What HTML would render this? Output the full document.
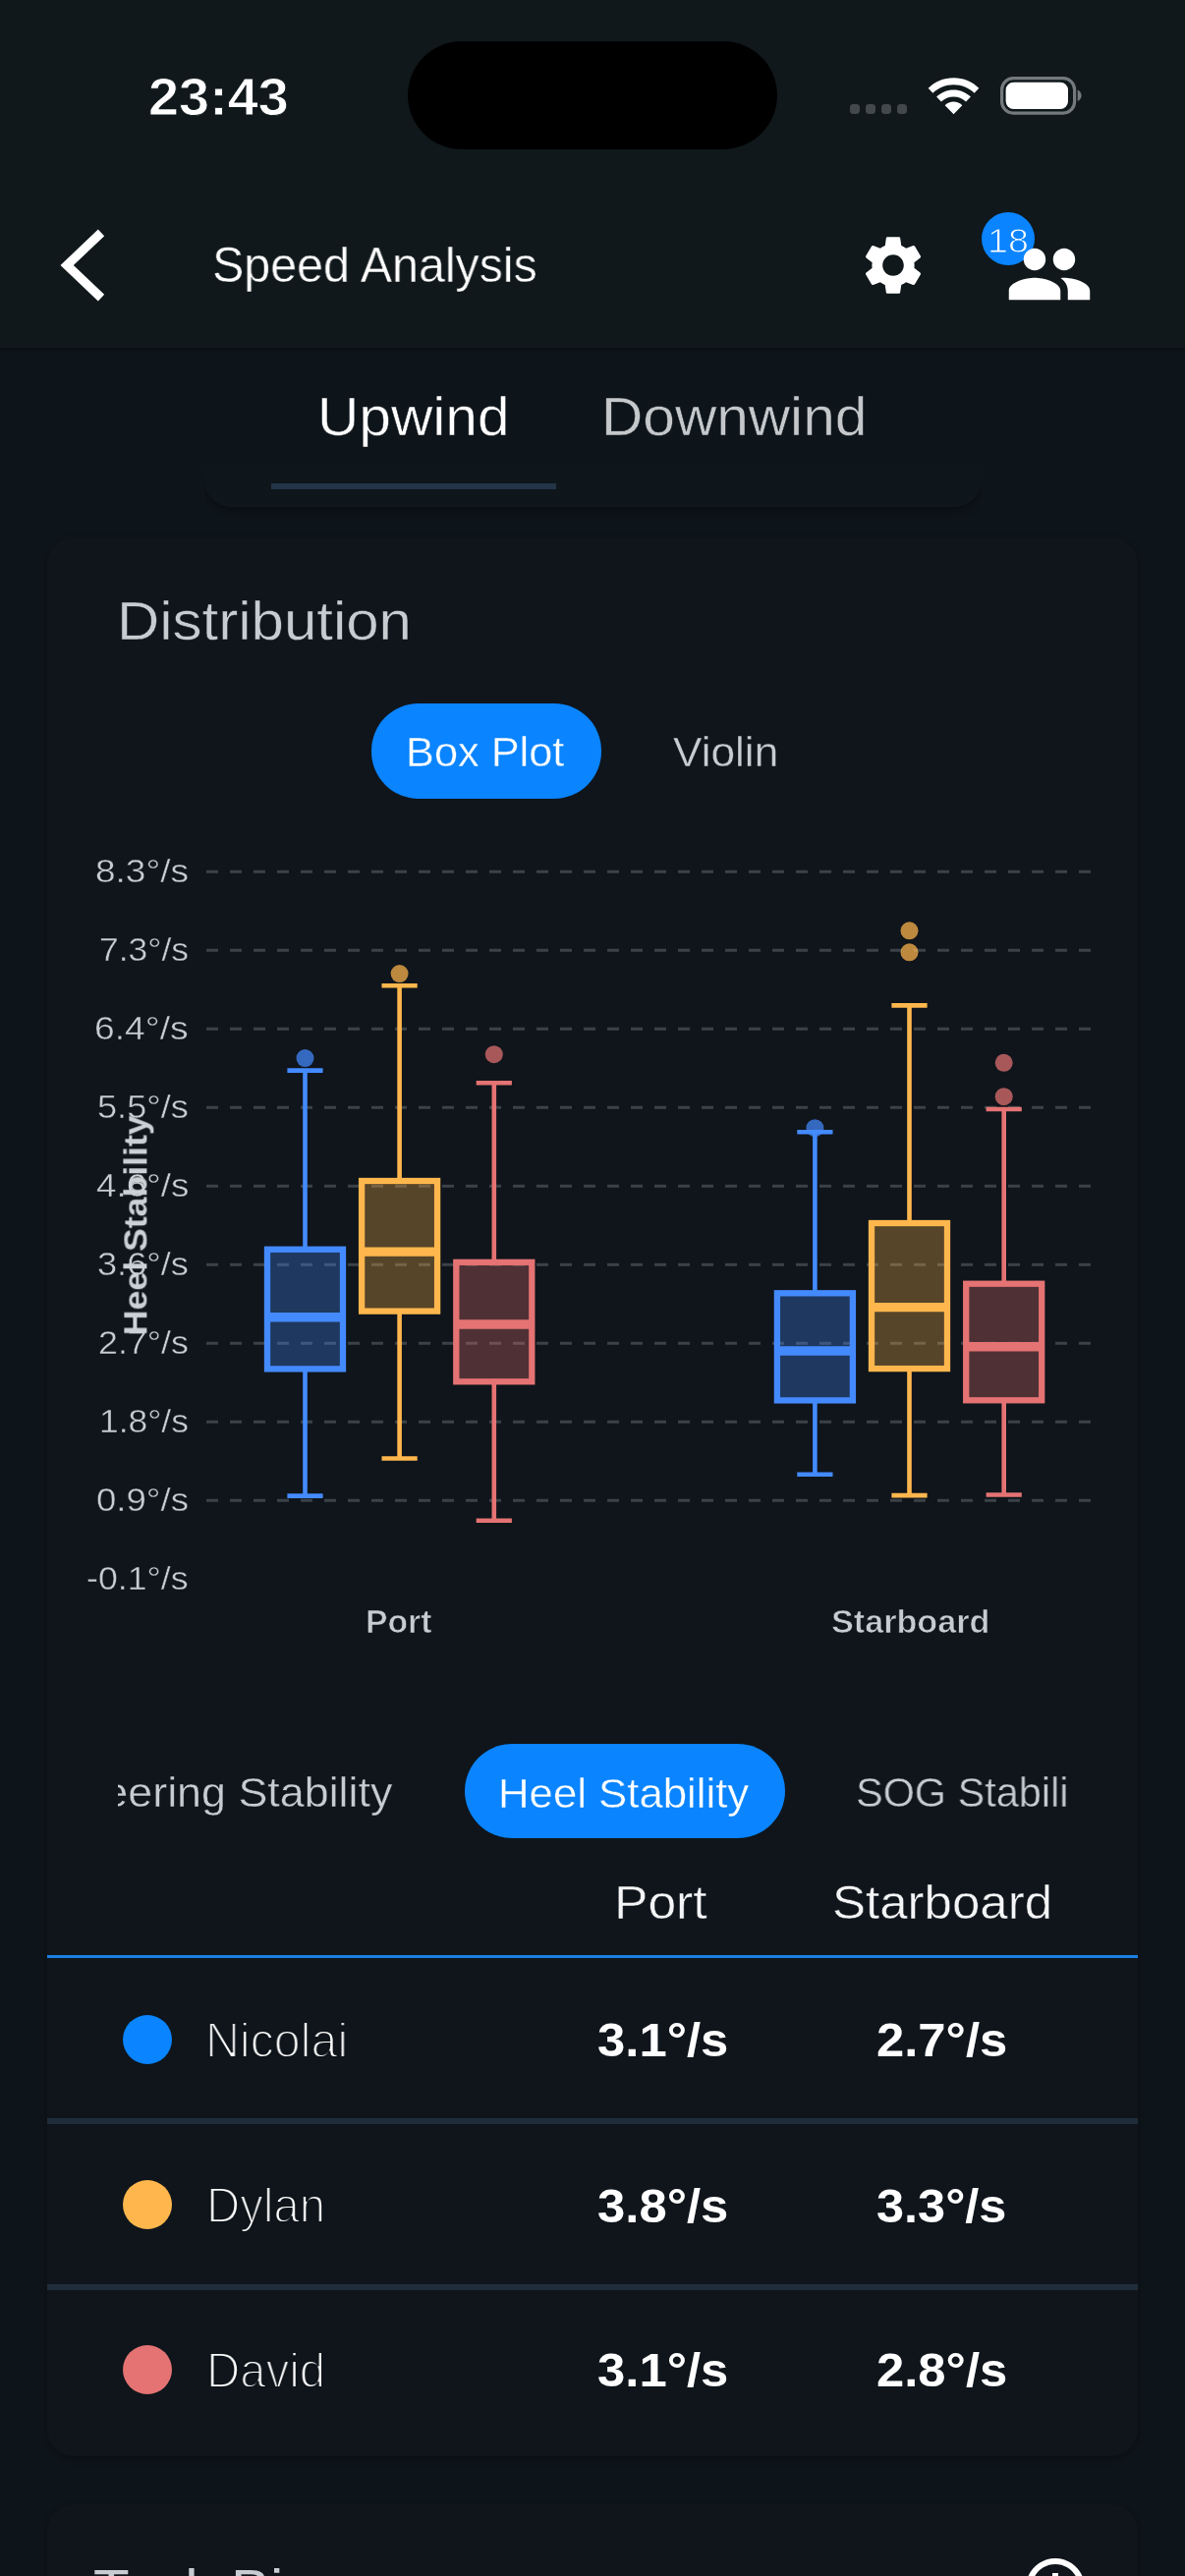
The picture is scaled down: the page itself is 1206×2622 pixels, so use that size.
<!DOCTYPE html>
<html lang="en">
<head>
<meta charset="utf-8">
<title>Speed Analysis</title>
<style>
*{box-sizing:border-box;margin:0;padding:0}
html,body{width:1206px;height:2622px;overflow:hidden;background:#0d141a}
body{position:relative;font-family:"Liberation Sans",sans-serif;color:#fff}
.t{position:absolute;white-space:nowrap;line-height:1;transform-origin:0 50%;font-style:normal;will-change:transform}
#appbar{position:absolute;left:0;top:0;width:1206px;height:353.5px;background:#10181b;box-shadow:0 1px 3px rgba(0,0,0,.4)}
#island{position:absolute;left:415px;top:42px;width:376px;height:110px;border-radius:55px;background:#000}
#signal i{position:absolute;top:105.8px;width:10px;height:10px;border-radius:3.4px;background:#42484c}
#badge{position:absolute;left:999.2px;top:216.2px;width:54.2px;height:54.2px;border-radius:50%;background:#0a84ff}
#tabs{position:absolute;left:208px;top:330px;width:791px;height:186px;border-radius:0 0 28px 28px;background:linear-gradient(#0d141a 75%,#0f171c);box-shadow:0 5px 8px -2px rgba(0,0,0,.4);clip-path:inset(0 0 -30px 0)}
#tabline{position:absolute;left:276px;top:492.2px;width:290px;height:5.800px;background:#233547}
.card{position:absolute;left:48px;width:1110px;border-radius:27px;background:#0f151b;box-shadow:0 3px 6px rgba(0,0,0,.28)}
#card1{top:547px;height:1952.5px}
#card2{top:2548.5px;height:300px}
.pill{position:absolute;border-radius:48px;background:#0a84ff}
.chart{position:absolute;left:0;top:840px}
#scroller{position:absolute;left:120px;top:1740px;width:966px;height:160px;overflow:hidden}
#thead-line{position:absolute;left:48px;top:1990px;width:1110px;height:3.200px;background:#1b7fe2}
.sep{position:absolute;left:48px;width:1110px;height:6.200px;background:#1f2d3b}
.dot{position:absolute;left:125.2px;width:50px;height:50px;border-radius:50%}
</style>
</head>
<body>
<div id="tabs"></div>
<div id="appbar">
  <div id="island"></div>
  <span class="t" style="left:150.60px;top:70.58px;font-size:54.07px;color:#fff;transform:scaleX(1.0336);font-weight:700;-webkit-text-stroke:0.9px #10181b;">23:43</span>
  <div id="signal"><i style="left:865.0px"></i><i style="left:881.1px"></i><i style="left:897.2px"></i><i style="left:913.3px"></i></div>
  <svg style="position:absolute;left:944px;top:78px" width="53" height="40" viewBox="0 0 53 40"><path fill="#fff" d="M26.5 1.2C16.400 1.200 7.300 5.200 0.700 11.700L5.400 16.700C10.900 11.400 18.300 8.200 26.500 8.200C34.700 8.200 42.100 11.400 47.600 16.700L52.300 11.700C45.700 5.200 36.600 1.200 26.500 1.200ZM26.5 13.4C19.700 13.400 13.600 16.100 9.100 20.500L13.900 25.500C17.200 22.300 21.600 20.400 26.500 20.400C31.400 20.400 35.800 22.300 39.100 25.500L43.900 20.500C39.400 16.100 33.300 13.400 26.500 13.400ZM26.5 25.6C23.100 25.600 20 27 17.700 29.200L26.500 38.300L35.300 29.200C33 27 29.900 25.600 26.500 25.600Z"/></svg>
  <svg style="position:absolute;left:1014px;top:74px" width="92" height="48" viewBox="1014 74 92 48"><rect x="1019.6" y="79.7" width="74" height="35.400" rx="11.500" fill="none" stroke="#74797d" stroke-width="3.2"/><rect x="1023.6" y="83.7" width="63.400" height="27.400" rx="8" fill="#fff"/><path d="M1096.7 91.5c2.400 1 3.900 3.200 3.900 5.800s-1.500 4.800-3.900 5.800z" fill="#74797d"/></svg>
  <svg style="position:absolute;left:50px;top:225px" width="70" height="90" viewBox="50 225 70 90"><path d="M103 236.8L68.2 270L103 303.200" fill="none" stroke="#fff" stroke-width="9.2" stroke-linejoin="miter" stroke-miterlimit="10"/></svg>
  <span class="t" style="left:215.74px;top:245.47px;font-size:50.3px;color:#fff;transform:scaleX(0.9619);-webkit-text-stroke:0.5px #10181b;">Speed Analysis</span>
  <svg style="position:absolute;left:873px;top:234px" width="72" height="72" viewBox="0 0 24 24"><path fill="#fff" d="M19.14 12.94c.04-.3.06-.61.06-.94 0-.32-.02-.64-.07-.94l2.03-1.58c.18-.14.23-.41.12-.61l-1.92-3.32c-.12-.22-.37-.29-.59-.22l-2.39.96c-.5-.38-1.03-.7-1.62-.94l-.36-2.54c-.04-.24-.24-.41-.48-.41h-3.84c-.24 0-.43.17-.47.41l-.36 2.54c-.59.24-1.13.57-1.62.94l-2.39-.96c-.22-.08-.47 0-.59.22L2.74 8.87c-.12.21-.08.47.12.61l2.03 1.58c-.05.3-.09.63-.09.94s.02.64.07.94l-2.03 1.58c-.18.14-.23.41-.12.61l1.92 3.32c.12.22.37.29.59.22l2.39-.96c.5.38 1.03.7 1.62.94l.36 2.54c.05.24.24.41.48.41h3.84c.24 0 .44-.17.47-.41l.36-2.54c.59-.24 1.13-.56 1.62-.94l2.39.96c.22.08.47 0 .59-.22l1.92-3.32c.12-.22.07-.47-.12-.61l-2.01-1.58zM12 15.6c-1.98 0-3.6-1.62-3.6-3.6s1.62-3.6 3.6-3.6 3.6 1.62 3.6 3.6-1.62 3.6-3.6 3.6z"/></svg>
  <div id="badge"></div><span class="t" style="left:1005.45px;top:227.40px;font-size:35.91px;color:#fff;transform:scaleX(1.0485);-webkit-text-stroke:1.0px #0a84ff;">18</span>
  <svg style="position:absolute;left:1022.7px;top:234px" width="90" height="90" viewBox="0 0 24 24"><path fill="#fff" d="M16 11c1.66 0 2.99-1.34 2.99-3S17.66 5 16 5c-1.66 0-3 1.34-3 3s1.34 3 3 3zm-8 0c1.66 0 2.99-1.34 2.99-3S9.660 5 8 5C6.340 5 5 6.340 5 8s1.340 3 3 3zm0 2c-2.330 0-7 1.170-7 3.500V19h14v-2.500c0-2.330-4.670-3.500-7-3.500zm8 0c-.29 0-.62.020-.97.050 1.160.84 1.970 1.970 1.970 3.450V19h6v-2.500c0-2.330-4.670-3.500-7-3.500z"/></svg>
</div>
<nav>
  <span class="t" style="left:322.89px;top:397.15px;font-size:54.7px;color:#fff;transform:scaleX(1.0720);-webkit-text-stroke:0.5px #0d141a;">Upwind</span>
  <span class="t" style="left:612.17px;top:397.15px;font-size:54.7px;color:#c4c8cb;transform:scaleX(1.0714);-webkit-text-stroke:0.5px #0d141a;">Downwind</span>
  <div id="tabline"></div>
</nav>
<section class="card" id="card1"></section>
<section class="card" id="card2"></section>
<main>
  <span class="t" style="left:118.67px;top:604.95px;font-size:54.7px;color:#c8ccd0;transform:scaleX(1.0963);-webkit-text-stroke:0.5px #0f151b;">Distribution</span>
  <div class="pill" style="left:378.2px;top:716.3px;width:234.200px;height:96.300px"></div>
  <span class="t" style="left:413.42px;top:745.00px;font-size:42.06px;color:#fff;transform:scaleX(1.0300);-webkit-text-stroke:0.4px #0a84ff;">Box Plot</span>
  <span class="t" style="left:685.10px;top:745.00px;font-size:42.06px;color:#c8ccd0;transform:scaleX(1.0506);-webkit-text-stroke:0.4px #0f151b;">Violin</span>
  <svg class="chart" width="1206" height="900" viewBox="0 840 1206 900"><g stroke="#3b4148" stroke-width="3" stroke-dasharray="12 12"><line x1="210" y1="887.3" x2="1110" y2="887.3"/><line x1="210" y1="967.3" x2="1110" y2="967.3"/><line x1="210" y1="1047.3" x2="1110" y2="1047.3"/><line x1="210" y1="1127.3" x2="1110" y2="1127.3"/><line x1="210" y1="1207.3" x2="1110" y2="1207.3"/><line x1="210" y1="1287.3" x2="1110" y2="1287.3"/><line x1="210" y1="1367.3" x2="1110" y2="1367.3"/><line x1="210" y1="1447.3" x2="1110" y2="1447.3"/><line x1="210" y1="1527.3" x2="1110" y2="1527.3"/></g><g stroke="#448aff" fill="none" stroke-width="4.6"><path d="M310.5 1089.6V1271.7M310.5 1393.4V1522.6M292.4 1089.6H328.6M292.4 1522.6H328.6"/><rect x="272.00" y="1271.7" width="77.0" height="121.7" fill="#448aff" fill-opacity="0.3" stroke-width="6.3"/><path d="M272.00 1340.8H349.00" stroke-width="9.4"/><circle cx="310.5" cy="1077.1" r="9" fill="#448aff" fill-opacity="0.72" stroke="none"/></g><g stroke="#ffb74d" fill="none" stroke-width="4.6"><path d="M406.6 1003.2V1202.0M406.6 1334.6V1484.5M388.5 1003.2H424.70000000000005M388.5 1484.5H424.70000000000005"/><rect x="368.10" y="1202.0" width="77.0" height="132.6" fill="#ffb74d" fill-opacity="0.3" stroke-width="6.3"/><path d="M368.10 1274.1H445.10" stroke-width="9.4"/><circle cx="406.6" cy="991.1" r="9" fill="#ffb74d" fill-opacity="0.72" stroke="none"/></g><g stroke="#e57373" fill="none" stroke-width="4.6"><path d="M502.8 1102.3V1284.8M502.8 1406.3V1547.7M484.7 1102.3H520.9M484.7 1547.7H520.9"/><rect x="464.30" y="1284.8" width="77.0" height="121.5" fill="#e57373" fill-opacity="0.3" stroke-width="6.3"/><path d="M464.30 1348.0H541.30" stroke-width="9.4"/><circle cx="502.8" cy="1073.2" r="9" fill="#e57373" fill-opacity="0.72" stroke="none"/></g><g stroke="#448aff" fill="none" stroke-width="4.6"><path d="M829.4 1152.2V1316.3M829.4 1425.4V1500.7M811.3 1152.2H847.5M811.3 1500.7H847.5"/><rect x="790.90" y="1316.3" width="77.0" height="109.1" fill="#448aff" fill-opacity="0.3" stroke-width="6.3"/><path d="M790.90 1375.0H867.90" stroke-width="9.4"/><circle cx="829.4" cy="1148.2" r="9" fill="#448aff" fill-opacity="0.72" stroke="none"/></g><g stroke="#ffb74d" fill="none" stroke-width="4.6"><path d="M925.5 1023.4V1245.0M925.5 1393.1V1522.1M907.4 1023.4H943.6M907.4 1522.1H943.6"/><rect x="887.00" y="1245.0" width="77.0" height="148.1" fill="#ffb74d" fill-opacity="0.3" stroke-width="6.3"/><path d="M887.00 1330.6H964.00" stroke-width="9.4"/><circle cx="925.5" cy="947.3" r="9" fill="#ffb74d" fill-opacity="0.72" stroke="none"/><circle cx="925.5" cy="969.3" r="9" fill="#ffb74d" fill-opacity="0.72" stroke="none"/></g><g stroke="#e57373" fill="none" stroke-width="4.6"><path d="M1021.7 1129.0V1306.7M1021.7 1425.3V1521.5M1003.6 1129.0H1039.8M1003.6 1521.5H1039.8"/><rect x="983.20" y="1306.7" width="77.0" height="118.6" fill="#e57373" fill-opacity="0.3" stroke-width="6.3"/><path d="M983.20 1370.7H1060.20" stroke-width="9.4"/><circle cx="1021.7" cy="1081.8" r="9" fill="#e57373" fill-opacity="0.72" stroke="none"/><circle cx="1021.7" cy="1116.2" r="9" fill="#e57373" fill-opacity="0.72" stroke="none"/></g></svg>
  <div id="ylabels"><span class="t" style="left:97.04px;top:871.47px;font-size:32.4px;color:#c9cdd1;-webkit-text-stroke:.4px #0f151b;transform:scaleX(1.1420)">8.3°/s</span><span class="t" style="left:100.94px;top:951.47px;font-size:32.4px;color:#c9cdd1;-webkit-text-stroke:.4px #0f151b;transform:scaleX(1.0946)">7.3°/s</span><span class="t" style="left:96.45px;top:1031.47px;font-size:32.4px;color:#c9cdd1;-webkit-text-stroke:.4px #0f151b;transform:scaleX(1.1492)">6.4°/s</span><span class="t" style="left:99.17px;top:1111.47px;font-size:32.4px;color:#c9cdd1;-webkit-text-stroke:.4px #0f151b;transform:scaleX(1.1161)">5.5°/s</span><span class="t" style="left:97.63px;top:1191.47px;font-size:32.4px;color:#c9cdd1;-webkit-text-stroke:.4px #0f151b;transform:scaleX(1.1349)">4.6°/s</span><span class="t" style="left:99.17px;top:1271.47px;font-size:32.4px;color:#c9cdd1;-webkit-text-stroke:.4px #0f151b;transform:scaleX(1.1161)">3.6°/s</span><span class="t" style="left:100.12px;top:1351.47px;font-size:32.4px;color:#c9cdd1;-webkit-text-stroke:.4px #0f151b;transform:scaleX(1.1045)">2.7°/s</span><span class="t" style="left:101.09px;top:1431.47px;font-size:32.4px;color:#c9cdd1;-webkit-text-stroke:.4px #0f151b;transform:scaleX(1.0928)">1.8°/s</span><span class="t" style="left:98.06px;top:1511.47px;font-size:32.4px;color:#c9cdd1;-webkit-text-stroke:.4px #0f151b;transform:scaleX(1.1297)">0.9°/s</span><span class="t" style="left:88.48px;top:1591.47px;font-size:32.4px;color:#c9cdd1;-webkit-text-stroke:.4px #0f151b;transform:scaleX(1.1015)">-0.1°/s</span></div>
  <span class="t" style="left:150px;top:1357.2px;font-size:32.6px;font-weight:700;color:#cdd1d5;transform-origin:0 0;transform:rotate(-90deg) translate(-2.23px,-27.60px) scaleX(1.0942)">Heel Stability</span>
  <span class="t" style="left:372.34px;top:1633.90px;font-size:33.49px;color:#c8ccd0;transform:scaleX(1.0074);font-weight:700;-webkit-text-stroke:0.7px #0f151b;">Port</span>
  <span class="t" style="left:845.52px;top:1633.90px;font-size:33.49px;color:#c8ccd0;transform:scaleX(1.0205);font-weight:700;-webkit-text-stroke:0.7px #0f151b;">Starboard</span>
  <div id="scroller">
    <span class="t" style="left:-56.69px;top:63.69px;font-size:42.3px;color:#c8ccd0;-webkit-text-stroke:.4px #0f151b;transform:scaleX(1.0598)">Steering Stability</span>
    <div class="pill" style="left:352.7px;top:35.3px;width:326.100px;height:96.200px"></div>
    <span class="t" style="left:387.28px;top:63.67px;font-size:42.56px;color:#fff;transform:scaleX(1.0279);-webkit-text-stroke:0.4px #0a84ff;">Heel Stability</span>
    <span class="t" style="left:750.81px;top:63.69px;font-size:42.3px;color:#c8ccd0;-webkit-text-stroke:.4px #0f151b;transform:scaleX(0.9794)">SOG Stability</span>
  </div>
  <span class="t" style="left:625.22px;top:1911.93px;font-size:48.7px;color:#f4f5f6;transform:scaleX(1.0598);-webkit-text-stroke:0.5px #0f151b;">Port</span>
  <span class="t" style="left:846.55px;top:1911.93px;font-size:48.7px;color:#f4f5f6;transform:scaleX(1.0481);-webkit-text-stroke:0.5px #0f151b;">Starboard</span>
  <div id="thead-line"></div>
  <div class="row"><i class="dot" style="top:2051px;background:#0a84ff"></i><span class="t" style="left:209.42px;top:2051.95px;font-size:50.62px;color:#fff;transform:scaleX(0.9549);-webkit-text-stroke:2.0px #0f151b;">Nicolai</span><span class="t" style="left:607.51px;top:2052.31px;font-size:48.3px;color:#fff;transform:scaleX(1.0522);font-weight:700;">3.1°/s</span><span class="t" style="left:891.51px;top:2052.31px;font-size:48.3px;color:#fff;transform:scaleX(1.0513);font-weight:700;">2.7°/s</span></div><div class="sep" style="top:2156.2px"></div><div class="row"><i class="dot" style="top:2219px;background:#ffb74d"></i><span class="t" style="left:209.70px;top:2220.15px;font-size:50.62px;color:#fff;transform:scaleX(0.9362);-webkit-text-stroke:2.0px #0f151b;">Dylan</span><span class="t" style="left:607.51px;top:2220.51px;font-size:48.3px;color:#fff;transform:scaleX(1.0522);font-weight:700;">3.8°/s</span><span class="t" style="left:892.31px;top:2220.51px;font-size:48.3px;color:#fff;transform:scaleX(1.0449);font-weight:700;">3.3°/s</span></div><div class="sep" style="top:2324.6px"></div><div class="row"><i class="dot" style="top:2387px;background:#e57373"></i><span class="t" style="left:209.70px;top:2388.05px;font-size:50.62px;color:#fff;transform:scaleX(0.9362);-webkit-text-stroke:2.0px #0f151b;">David</span><span class="t" style="left:607.51px;top:2388.41px;font-size:48.3px;color:#fff;transform:scaleX(1.0522);font-weight:700;">3.1°/s</span><span class="t" style="left:891.51px;top:2388.41px;font-size:48.3px;color:#fff;transform:scaleX(1.0513);font-weight:700;">2.8°/s</span></div>
  <span class="t" style="left:95.26px;top:2608.10px;font-size:54.7px;color:#c8ccd0;transform:scaleX(1.0963)">Tack Bias</span>
  <svg style="position:absolute;left:1038px;top:2598px" width="72" height="72" viewBox="0 0 24 24"><path fill="#fff" d="M11 17h2v-6h-2v6zm1-15C6.480 2 2 6.480 2 12s4.480 10 10 10 10-4.480 10-10S17.520 2 12 2zm0 18c-4.410 0-8-3.590-8-8s3.590-8 8-8 8 3.590 8 8-3.590 8-8 8zM11 9h2V7h-2v2z"/></svg>
</main>
</body>
</html>
